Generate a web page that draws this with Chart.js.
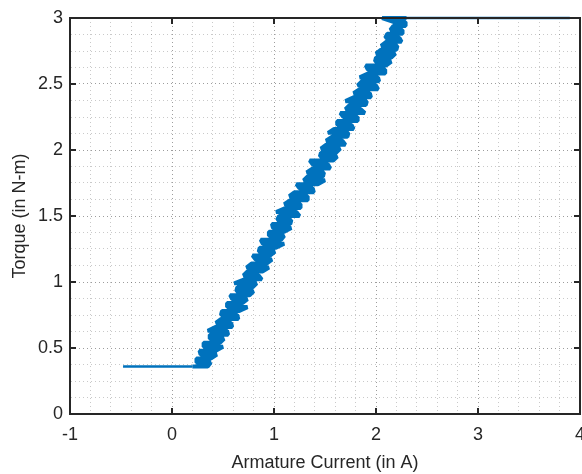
<!DOCTYPE html>
<html>
<head>
<meta charset="utf-8">
<script src="https://cdn.jsdelivr.net/npm/chart.js@4"></script>
<style>
  html, body { margin: 0; padding: 0; background: #fff; }
  canvas { display: block; }
</style>
</head>
<body>
<canvas id="torqueChart" width="582" height="474"></canvas>
<script>
// flat part before the ramp (no load torque)
const idleCurrent = [-0.48];
const idleTorque = [0.36];

// ramp: torque levels and the left / right edge of the noisy current band
const torqueLevels = [
  0.36, 0.39, 0.42, 0.45, 0.48, 0.51, 0.54, 0.57, 0.60, 0.63,
  0.66, 0.69, 0.72, 0.75, 0.78, 0.81, 0.84, 0.87, 0.90, 0.93,
  0.96, 0.99, 1.02, 1.05, 1.08, 1.11, 1.14, 1.17, 1.20, 1.23,
  1.26, 1.29, 1.32, 1.35, 1.38, 1.41, 1.44, 1.47, 1.50, 1.53,
  1.56, 1.59, 1.62, 1.65, 1.68, 1.71, 1.74, 1.77, 1.80, 1.83,
  1.86, 1.89, 1.92, 1.95, 1.98, 2.01, 2.04, 2.07, 2.10, 2.13,
  2.16, 2.19, 2.22, 2.25, 2.28, 2.31, 2.34, 2.37, 2.40, 2.43,
  2.46, 2.49, 2.52, 2.55, 2.58, 2.61, 2.64, 2.67, 2.70, 2.73,
  2.76, 2.79, 2.82, 2.85, 2.88, 2.91, 2.94, 2.97, 3.00
];
const bandLeft = [
  0.20, 0.24, 0.24, 0.28, 0.27, 0.31, 0.31, 0.37, 0.37, 0.35,
  0.43, 0.43, 0.48, 0.48, 0.49, 0.54, 0.54, 0.59, 0.57, 0.63,
  0.64, 0.61, 0.71, 0.70, 0.74, 0.73, 0.78, 0.82, 0.79, 0.85,
  0.86, 0.89, 0.87, 0.95, 0.95, 0.99, 0.98, 1.03, 1.05, 1.02,
  1.11, 1.10, 1.16, 1.15, 1.20, 1.25, 1.22, 1.29, 1.33, 1.32,
  1.38, 1.38, 1.35, 1.45, 1.46, 1.46, 1.51, 1.51, 1.57, 1.53,
  1.59, 1.62, 1.62, 1.68, 1.65, 1.70, 1.74, 1.70, 1.78, 1.78,
  1.84, 1.82, 1.86, 1.84, 1.92, 1.92, 1.90, 1.99, 2.00, 2.00,
  2.05, 2.05, 2.10, 2.09, 2.11, 2.14, 2.17, 2.17, 2.06
];
const bandRight = [
  0.35, 0.38, 0.38, 0.44, 0.43, 0.50, 0.47, 0.51, 0.55, 0.54,
  0.59, 0.58, 0.65, 0.64, 0.66, 0.74, 0.69, 0.74, 0.76, 0.80,
  0.79, 0.83, 0.88, 0.85, 0.89, 0.95, 0.93, 0.98, 0.96, 1.01,
  1.02, 1.10, 1.07, 1.10, 1.10, 1.17, 1.16, 1.17, 1.25, 1.22,
  1.26, 1.26, 1.33, 1.33, 1.39, 1.38, 1.43, 1.50, 1.48, 1.49,
  1.55, 1.53, 1.58, 1.62, 1.61, 1.65, 1.70, 1.67, 1.72, 1.73,
  1.78, 1.76, 1.82, 1.82, 1.89, 1.85, 1.90, 1.91, 1.95, 1.94,
  2.02, 2.00, 2.03, 2.02, 2.09, 2.09, 2.10, 2.15, 2.15, 2.19,
  2.20, 2.21, 2.25, 2.23, 2.26, 2.26, 2.29, 2.29, 2.30
];

// saturated part at the torque limit
const satCurrent = [3.90];
const satTorque = [3.00];

// labelled ticks
const xTicks = [-1, 0, 1, 2, 3, 4];
const yTicks = [0, 0.5, 1, 1.5, 2, 2.5, 3];

const axisColor = '#262626';
const fontFamily = "'Liberation Sans', Arial, Helvetica, sans-serif";

const isMajor = (v, list) => list.some(t => Math.abs(t - v) < 1e-6);

// path in drawing order: idle line, then the band walked level by level
// (left->right, right->left ...), then the saturation line
const points = [];
idleCurrent.forEach((x, i) => points.push({ x: x, y: idleTorque[i] }));
torqueLevels.forEach((t, i) => {
  if (i % 2 === 0) {
    points.push({ x: bandLeft[i], y: t }, { x: bandRight[i], y: t });
  } else {
    points.push({ x: bandRight[i], y: t }, { x: bandLeft[i], y: t });
  }
});
satCurrent.forEach((x, i) => points.push({ x: x, y: satTorque[i] }));

const lastIdx = points.length - 1;

// box round the axes plus inward tick marks (matlab look)
const boxPlugin = {
  id: 'boxPlugin',
  afterDraw(chart) {
    const { ctx, chartArea: a, scales } = chart;
    const len = 6;
    ctx.save();
    ctx.strokeStyle = axisColor;
    ctx.lineWidth = 2;
    ctx.beginPath();
    ctx.moveTo(a.left, a.top);
    ctx.lineTo(a.right, a.top);
    ctx.lineTo(a.right, a.bottom);
    ctx.stroke();
    ctx.beginPath();
    xTicks.forEach(v => {
      const px = Math.round(scales.x.getPixelForValue(v));
      ctx.moveTo(px, a.bottom); ctx.lineTo(px, a.bottom - len);
      ctx.moveTo(px, a.top); ctx.lineTo(px, a.top + len);
    });
    yTicks.forEach(v => {
      const py = Math.round(scales.y.getPixelForValue(v));
      ctx.moveTo(a.left, py); ctx.lineTo(a.left + len, py);
      ctx.moveTo(a.right, py); ctx.lineTo(a.right - len, py);
    });
    ctx.stroke();
    ctx.restore();
  }
};

const ctx = document.getElementById('torqueChart');

new Chart(ctx, {
  type: 'scatter',
  data: {
    datasets: [{
      data: points,
      showLine: true,
      borderColor: '#0072BD',
      backgroundColor: '#0072BD',
      borderWidth: 4,
      borderJoinStyle: 'bevel',
      pointRadius: 0,
      tension: 0,
      clip: false,
      // flat idle / saturation parts are a thin line in the original
      segment: {
        borderWidth: (c) => (c.p0DataIndex === 0 || c.p1DataIndex === lastIdx) ? 2.5 : undefined
      }
    }]
  },
  options: {
    responsive: false,
    animation: false,
    layout: { padding: { top: 18, right: 2, left: 0, bottom: 0 } },
    plugins: {
      legend: { display: false },
      tooltip: { enabled: false }
    },
    scales: {
      x: {
        type: 'linear',
        min: -1,
        max: 4,
        afterFit: (scale) => {
          scale.height = 60;
          scale.paddingLeft = 0;
          scale.paddingRight = 0;
        },
        ticks: {
          stepSize: 0.2,
          autoSkip: false,
          maxRotation: 0,
          padding: 10,
          color: axisColor,
          font: { family: fontFamily, size: 18 },
          callback: (v) => isMajor(v, xTicks) ? String(Math.round(v)) : ''
        },
        grid: {
          drawTicks: false,
          lineWidth: 1,
          color: (c) => isMajor(c.tick.value, xTicks) ? 'rgba(38,38,38,0.45)' : 'rgba(38,38,38,0.25)'
        },
        border: { display: true, color: axisColor, width: 2, dash: [1, 3] },
        title: {
          display: true,
          text: 'Armature Current (in A)',
          color: axisColor,
          font: { family: fontFamily, size: 18 },
          padding: { top: 0, bottom: 0 }
        }
      },
      y: {
        type: 'linear',
        min: 0,
        max: 3,
        afterFit: (scale) => {
          scale.width = 70;
          scale.paddingTop = 0;
          scale.paddingBottom = 0;
        },
        ticks: {
          stepSize: 0.125,
          autoSkip: false,
          padding: 7,
          color: axisColor,
          font: { family: fontFamily, size: 18 },
          callback: (v) => isMajor(v, yTicks) ? String(Math.round(v * 10) / 10) : ''
        },
        grid: {
          drawTicks: false,
          lineWidth: 1,
          color: (c) => isMajor(c.tick.value, yTicks) ? 'rgba(38,38,38,0.45)' : 'rgba(38,38,38,0.25)'
        },
        border: { display: true, color: axisColor, width: 2, dash: [1, 3] },
        title: {
          display: true,
          text: 'Torque (in N-m)',
          color: axisColor,
          font: { family: fontFamily, size: 18 },
          padding: { top: 9, bottom: 0 }
        }
      }
    }
  },
  plugins: [boxPlugin]
});
</script>
</body>
</html>
